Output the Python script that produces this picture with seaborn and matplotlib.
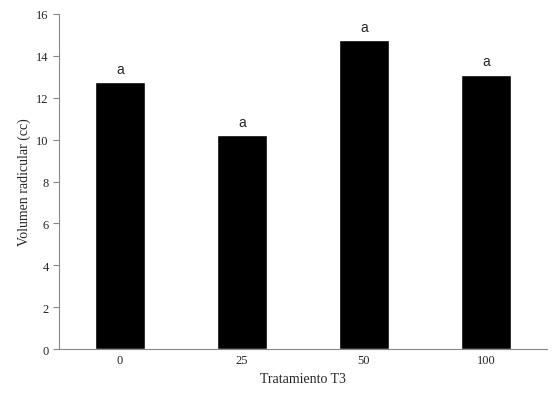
import matplotlib
matplotlib.use("Agg")
import matplotlib.pyplot as plt
import seaborn as sns
import pandas as pd
import numpy as np

categories = ["0", "25", "50", "100"]
values = [12.75, 10.2, 14.75, 13.1]
letters = ["a", "a", "a", "a"]

sns.set_style("white")
plt.rcParams['font.family'] = ['Liberation Serif', 'DejaVu Serif']

df = pd.DataFrame({"trat": categories, "vol": values})
fig = plt.figure(figsize=(5.57, 4.02), dpi=100)
ax = fig.add_axes([0.106, 0.129, 0.876, 0.834])
sns.barplot(data=df, x="trat", y="vol", color="black", width=0.41, ax=ax, saturation=1)
for i, (v, l) in enumerate(zip(values, letters)):
    ax.text(i, v + 0.3, l, ha="center", va="bottom", fontsize=10, family="Liberation Sans")
ax.set_ylim(0, 16)
ax.set_xlim(-0.5, 3.5)
ax.set_yticks(range(0, 17, 2))
ax.set_xticks(np.arange(-0.5, 3.6, 1), minor=True)
ax.tick_params(axis="x", which="major", length=0, labelsize=9)
ax.tick_params(axis="x", which="minor", length=4, direction="out", color="#888")
ax.tick_params(axis="y", length=4, direction="out", labelsize=9, color="#888", left=True)
for s in ["top", "right"]:
    ax.spines[s].set_visible(False)
for s in ["left", "bottom"]:
    ax.spines[s].set_color("#888")
ax.set_xlabel("Tratamiento T3", fontsize=10)
ax.set_ylabel("Volumen radicular (cc)", fontsize=10)
fig.savefig("out.png", dpi=100)
